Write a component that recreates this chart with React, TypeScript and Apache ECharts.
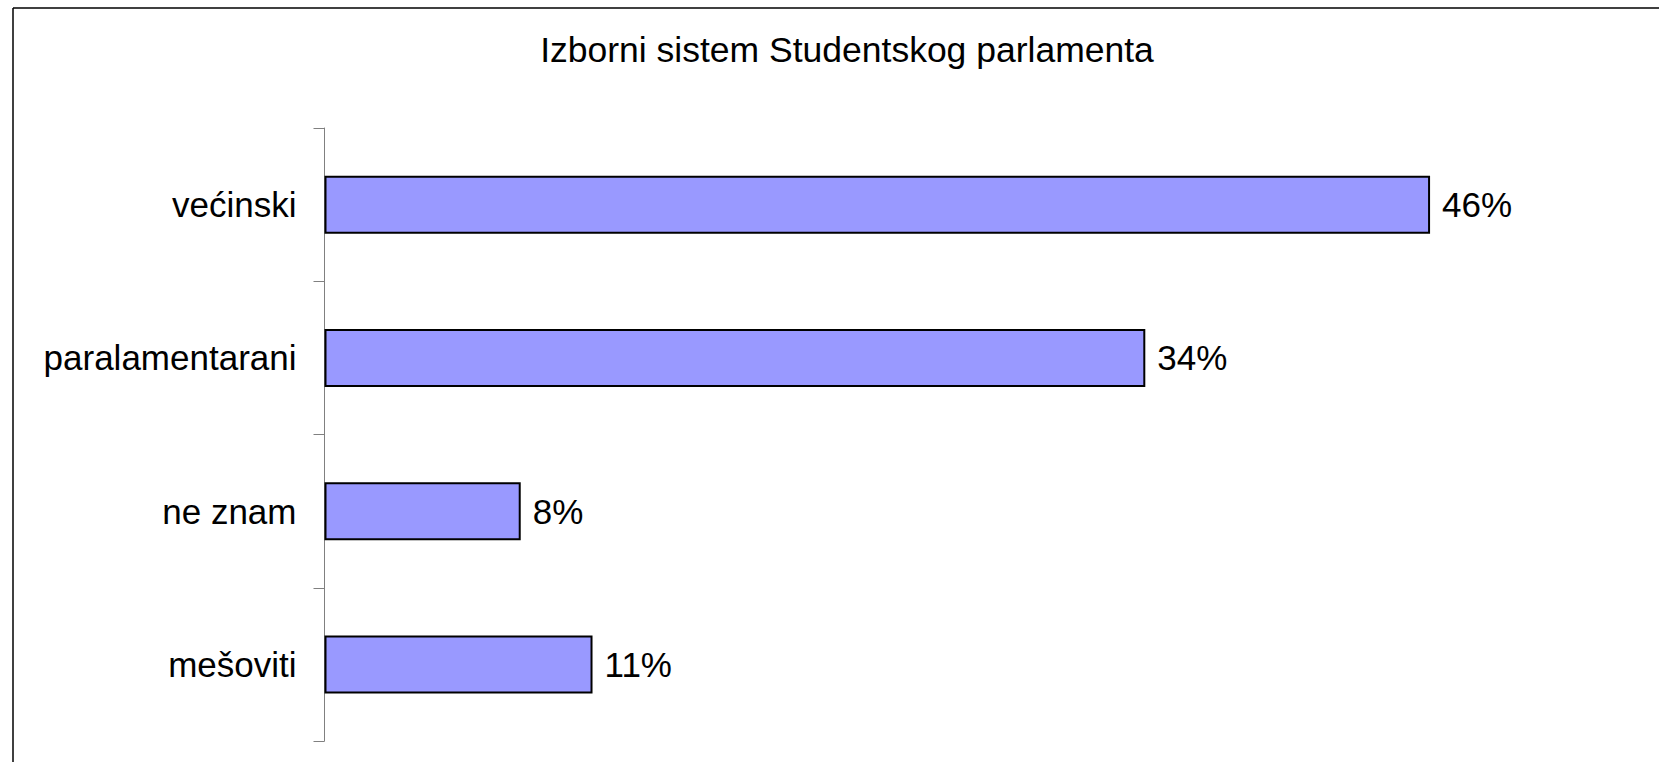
import React, { useEffect, useRef } from "react";
import * as echarts from "echarts";

const titleText = "Izborni sistem Studentskog parlamenta";
const categories = ["većinski", "paralamentarani", "ne znam", "mešoviti"];
const values = [46.2, 34.3, 8.2, 11.2];

export default function App() {
  const ref = useRef<HTMLDivElement>(null);
  useEffect(() => {
    if (!ref.current) return;
    document.documentElement.style.overflow = "hidden";
    document.body.style.margin = "0";
    const chart = echarts.init(ref.current, null, { renderer: "svg" });
    const font = "Liberation Sans, Arial, sans-serif";
    chart.setOption({
      animation: false,
      backgroundColor: "#ffffff",
      title: {
        text: titleText,
        left: 842,
        top: 27,
        textAlign: "center",
        textStyle: { fontFamily: font, fontSize: 35.5, fontWeight: "normal", color: "#000" },
      },
      graphic: [
        {
          type: "line",
          shape: { x1: 13, y1: 8, x2: 1659, y2: 8 },
          style: { stroke: "#000", lineWidth: 1.5 },
          silent: true,
        },
        {
          type: "line",
          shape: { x1: 13, y1: 8, x2: 13, y2: 762 },
          style: { stroke: "#000", lineWidth: 1.5 },
          silent: true,
        },
      ],
      grid: { left: 324.5, right: 138, top: 128, bottom: 21, containLabel: false },
      xAxis: {
        type: "value",
        min: 0,
        max: 50,
        show: false,
      },
      yAxis: {
        type: "category",
        inverse: true,
        data: categories,
        axisLine: { show: true, lineStyle: { color: "#808080", width: 1 } },
        axisTick: { show: true, length: 11, interval: 0, alignWithLabel: false, lineStyle: { color: "#808080", width: 1 } },
        axisLabel: { margin: 28, fontFamily: font, fontSize: 35, color: "#000" },
        splitLine: { show: false },
      },
      series: [
        {
          type: "bar",
          data: values,
          barWidth: 58,
          itemStyle: { color: "#9999FF", borderColor: "#000", borderWidth: 2 },
          label: {
            show: true,
            position: "right",
            distance: 12,
            fontFamily: font,
            fontSize: 35,
            color: "#000",
            formatter: (p: any) => Math.round(p.value) + "%",
          },
        },
      ],
    });
    return () => chart.dispose();
  }, []);
  return <div ref={ref} style={{ position: "fixed", left: 0, top: 0, width: 1659, height: 762 }} />;
}
